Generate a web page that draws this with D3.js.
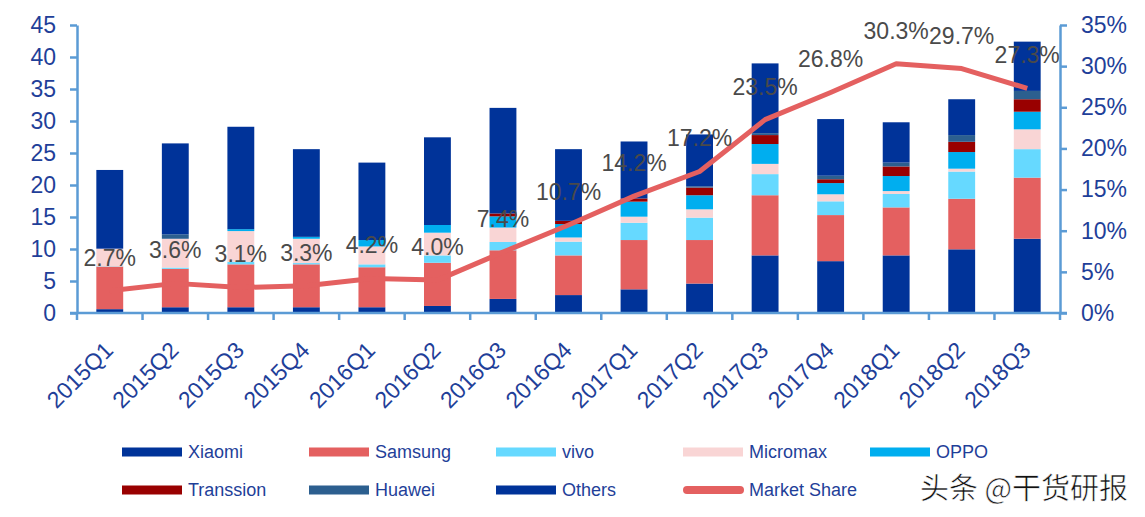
<!DOCTYPE html>
<html><head><meta charset="utf-8">
<script src="https://cdn.jsdelivr.net/npm/d3@7/dist/d3.min.js"></script>
<style>
html,body{margin:0;padding:0;background:#fff;}
svg{display:block;font-family:"Liberation Sans",Arial,sans-serif;}
</style></head>
<body>
<svg id="chart" width="1145" height="517"></svg>
<script>
const categories = ["2015Q1","2015Q2","2015Q3","2015Q4","2016Q1","2016Q2","2016Q3","2016Q4","2017Q1","2017Q2","2017Q3","2017Q4","2018Q1","2018Q2","2018Q3"];
const xiaomi    = [0.6,0.9,0.9,0.9,0.9,1.1,2.2,2.8,3.7,4.6,9.0,8.1,9.0,9.95,11.6];
const samsung   = [6.65,6.0,6.7,6.7,6.25,6.75,7.6,6.2,7.7,6.8,9.4,7.2,7.5,7.9,9.55];
const vivo      = [0.05,0.2,0.4,0.2,0.45,1.15,1.3,2.15,2.7,3.5,3.3,2.15,2.1,4.25,4.45];
const micromax  = [2.75,4.5,4.8,3.8,2.8,3.55,2.25,0.65,0.95,1.3,1.6,1.1,0.45,0.45,3.1];
const oppo      = [0,0,0.3,0.3,1.0,1.2,1.75,2.1,2.35,2.2,3.1,1.75,2.35,2.6,2.75];
const transsion = [0,0,0,0,0,0,0.45,0.5,0.5,1.2,1.4,0.6,1.5,1.6,1.95];
const huawei    = [0,0.7,0,0,0,0,0,0,0,0.2,0.3,0.55,0.6,1.05,1.3];
const others    = [12.3,14.2,16.0,13.7,12.1,13.7,16.5,11.2,8.9,8.1,10.9,8.85,6.3,5.6,7.7];
const marketShare = [2.7,3.6,3.1,3.3,4.2,4.0,7.4,10.7,14.2,17.2,23.5,26.8,30.3,29.7,27.3];
const leftTicks = [0,5,10,15,20,25,30,35,40,45];
const rightTicks = [0,5,10,15,20,25,30,35];

const seriesNames = ["Xiaomi","Samsung","vivo","Micromax","OPPO","Transsion","Huawei","Others"];
const seriesValues = [xiaomi,samsung,vivo,micromax,oppo,transsion,huawei,others];
const colors = {Xiaomi:"#003399",Samsung:"#E46060",vivo:"#66D9FF",Micromax:"#F9D5D5",OPPO:"#00AEEF",Transsion:"#990000",Huawei:"#2C5F8F",Others:"#003399"};
const lineColor = "#E46060";
const axisColor = "#5B9BD5";
const labelColor = "#1F3F99";

const svg = d3.select("#chart");
const L = 77, R = 1060, T = 25, B = 313;

const x = d3.scaleBand().domain(categories).range([L,R]).paddingInner(0.59).paddingOuter(0.295);
const y = d3.scaleLinear().domain([0,45]).range([B,T]);
const y2 = d3.scaleLinear().domain([0,35]).range([B,T]);
const step = x.step();
const cx = c => x(c) + x.bandwidth()/2;

const table = categories.map((c,i)=>{const o={cat:c}; seriesNames.forEach((s,j)=>o[s]=seriesValues[j][i]); return o;});
const stacked = d3.stack().keys(seriesNames)(table);

svg.append("g").selectAll("g").data(stacked).join("g")
  .attr("fill", d=>colors[d.key])
  .selectAll("rect").data(d=>d).join("rect")
  .attr("x", d=>x(d.data.cat))
  .attr("width", x.bandwidth())
  .attr("y", d=>y(d[1]))
  .attr("height", d=>Math.max(0, y(d[0])-y(d[1])));

// Left axis
const gl = svg.append("g").attr("transform",`translate(${L},0)`)
  .call(d3.axisLeft(y).tickValues(leftTicks).tickSize(7).tickPadding(14).tickSizeOuter(0));
gl.select(".domain").attr("stroke",axisColor).attr("stroke-width",2.5);
gl.selectAll(".tick line").attr("stroke",axisColor).attr("stroke-width",2.5);
gl.selectAll("text").attr("fill",labelColor).attr("font-size",23).attr("font-family","Liberation Sans, Arial");

// Right axis
const gr = svg.append("g").attr("transform",`translate(${R},0)`)
  .call(d3.axisRight(y2).tickValues(rightTicks).tickFormat(d=>d+"%").tickSize(7).tickPadding(14).tickSizeOuter(0));
gr.select(".domain").attr("stroke",axisColor).attr("stroke-width",2.5);
gr.selectAll(".tick line").attr("stroke",axisColor).attr("stroke-width",2.5);
gr.selectAll("text").attr("fill",labelColor).attr("font-size",23).attr("font-family","Liberation Sans, Arial");

// Bottom axis
const gb = svg.append("g").attr("transform",`translate(0,${B})`);
gb.append("line").attr("x1",L-7).attr("x2",R+7).attr("stroke",axisColor).attr("stroke-width",2.5);
const bounds = [L].concat(categories.map(c=>cx(c)+step/2));
gb.selectAll("line.tk").data(bounds).join("line").attr("class","tk")
  .attr("x1",d=>d).attr("x2",d=>d).attr("y1",0).attr("y2",7)
  .attr("stroke",axisColor).attr("stroke-width",2.5);
gb.selectAll("text").data(categories).join("text")
  .attr("transform",d=>`translate(${cx(d)-1},${33}) rotate(-45)`)
  .attr("text-anchor","end").attr("dy","0.35em")
  .attr("fill",labelColor).attr("font-size",23).text(d=>d);

// Market share line
const line = d3.line().x((d,i)=>cx(categories[i])).y(d=>y2(d));
svg.append("path").datum(marketShare).attr("d",line)
  .attr("fill","none").attr("stroke",lineColor).attr("stroke-width",5).attr("stroke-linejoin","round");

svg.append("g").selectAll("text").data(marketShare).join("text")
  .attr("x",(d,i)=>cx(categories[i])).attr("y",d=>y2(d)-25)
  .attr("text-anchor","middle").attr("fill","#4a4a4a").attr("font-size",23)
  .text(d=>d.toFixed(1)+"%");

// Legend
const legendItems = ["Xiaomi","Samsung","vivo","Micromax","OPPO","Transsion","Huawei","Others","Market Share"];
const lg = svg.append("g");
legendItems.forEach((name,i)=>{
  const col = i%5, row = Math.floor(i/5);
  const lx = 122 + col*187, ly = 452 + row*38;
  if(name==="Market Share"){
    lg.append("line").attr("x1",lx+4).attr("x2",lx+57).attr("y1",ly).attr("y2",ly)
      .attr("stroke",lineColor).attr("stroke-width",8).attr("stroke-linecap","round");
  } else {
    lg.append("rect").attr("x",lx).attr("y",ly-4.5).attr("width",60).attr("height",9).attr("fill",colors[name]);
  }
  lg.append("text").attr("x",lx+66).attr("y",ly).attr("dy","0.35em")
    .attr("fill",labelColor).attr("font-size",18).text(name);
});

// Watermark
svg.append("text").attr("x",920).attr("y",499)
  .attr("font-family","Noto Sans CJK SC").attr("font-size",29).attr("fill","#111")
  .attr("stroke","#fff").attr("stroke-width",0.6)
  .text("头条 @干货研报");
</script>
</body></html>
